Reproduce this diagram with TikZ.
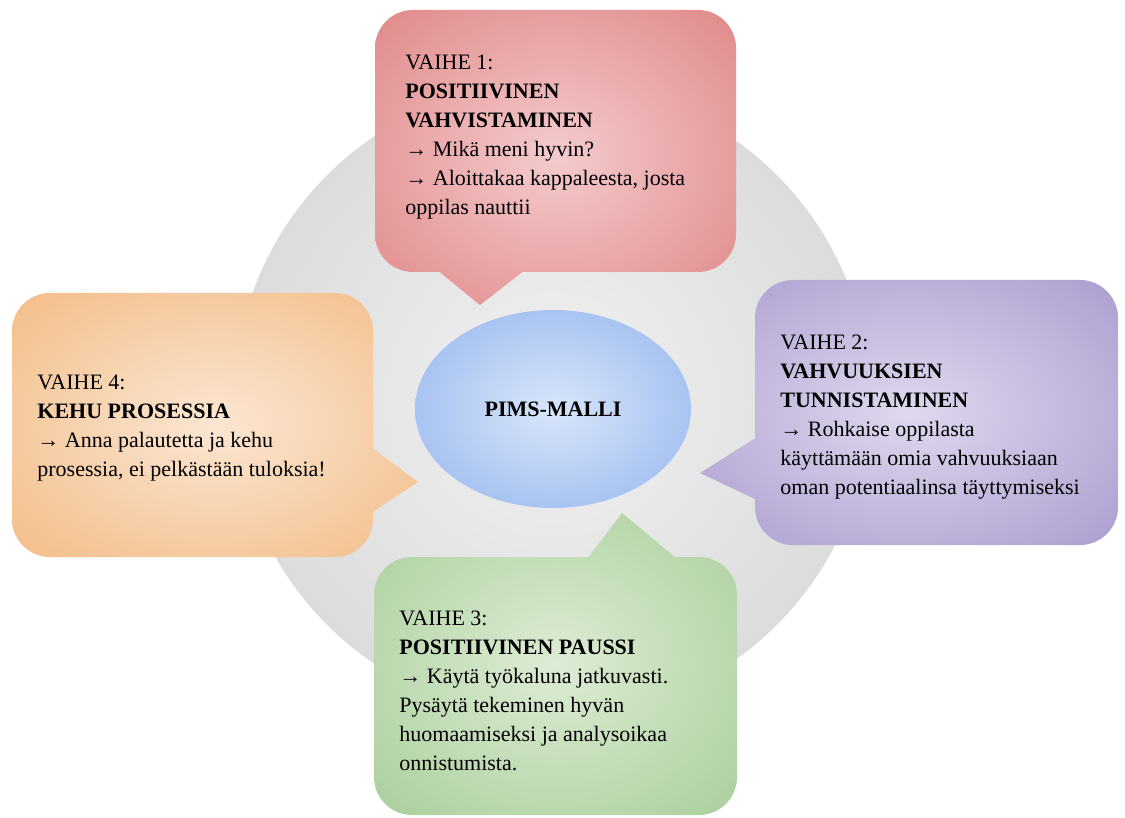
\documentclass[tikz,border=0pt]{standalone}
\usepackage{fontspec}
\setmainfont{Liberation Serif}
\definecolor{grayin}{HTML}{F2F2F2}
\definecolor{grayout}{HTML}{C6C6C6}
\definecolor{bluein}{HTML}{D8E5FA}
\definecolor{blueout}{HTML}{7FA7EA}
\definecolor{redin}{HTML}{F4CBCD}
\definecolor{redout}{HTML}{D76A6A}
\definecolor{orangein}{HTML}{FBE6D2}
\definecolor{orangeout}{HTML}{EFAA66}
\definecolor{purplein}{HTML}{DFD8EE}
\definecolor{purpleout}{HTML}{9383C1}
\definecolor{greenin}{HTML}{DDECD5}
\definecolor{greenout}{HTML}{93C182}
\pgfdeclareradialshading{grayglow}{\pgfpoint{0bp}{0bp}}{color(0bp)=(grayin); color(50bp)=(grayout); color(60bp)=(grayout)}
\pgfdeclareradialshading{blueglow}{\pgfpoint{0bp}{0bp}}{color(0bp)=(bluein); color(47bp)=(blueout); color(60bp)=(blueout)}
\pgfdeclareradialshading{redglow}{\pgfpoint{0bp}{0bp}}{color(0bp)=(redin); color(52bp)=(redout); color(72bp)=(redout)}
\pgfdeclareradialshading{orangeglow}{\pgfpoint{0bp}{0bp}}{color(0bp)=(orangein); color(52bp)=(orangeout); color(72bp)=(orangeout)}
\pgfdeclareradialshading{purpleglow}{\pgfpoint{0bp}{0bp}}{color(0bp)=(purplein); color(52bp)=(purpleout); color(72bp)=(purpleout)}
\pgfdeclareradialshading{greenglow}{\pgfpoint{0bp}{0bp}}{color(0bp)=(greenin); color(52bp)=(greenout); color(72bp)=(greenout)}
\begin{document}
\begin{tikzpicture}[x=0.5pt, y=-0.5pt,
	txt/.style={anchor=north west, align=left, inner sep=0pt, font=\fontsize{11}{14.5}\selectfont},
	box/.style={rounded corners=19pt}]
	\useasboundingbox (0,0) rectangle (1125,818);
	% background disc and centre
	\shade[shading=grayglow] (552,400) circle[radius=318];
	\shade[shading=blueglow] (553,409) ellipse[x radius=138, y radius=99];
	\node[font=\fontsize{11}{14.5}\selectfont\bfseries, inner sep=0pt] (malli) at (553,409) {PIMS-MALLI};
	% callouts
	\shade[shading=redglow, box] (375,10) rectangle (736,272) [sharp corners] (437,270) -- (480,305) -- (525,270) -- cycle;
	\shade[shading=purpleglow, box] (755,280) rectangle (1118,545) [sharp corners] (757,437) -- (700,473) -- (757,500) -- cycle;
	\shade[shading=greenglow, box] (374,557) rectangle (737,815) [sharp corners] (677,559) -- (622,513) -- (587,559) -- cycle;
	\shade[shading=orangeglow, box] (12,293) rectangle (373,557) [sharp corners] (371,513) -- (418,482) -- (371,447) -- cycle;
	% texts
	\node[txt] (vaihe1) at (405,55) {VAIHE 1:\\\textbf{POSITIIVINEN}\\\textbf{VAHVISTAMINEN}\\→ Mikä meni hyvin?\\→ Aloittakaa kappaleesta, josta\\oppilas nauttii};
	\node[txt] (vaihe2) at (780,335) {VAIHE 2:\\\textbf{VAHVUUKSIEN}\\\textbf{TUNNISTAMINEN}\\→ Rohkaise oppilasta\\käyttämään omia vahvuuksiaan\\oman potentiaalinsa täyttymiseksi};
	\node[txt] (vaihe3) at (399,611) {VAIHE 3:\\\textbf{POSITIIVINEN PAUSSI}\\→ Käytä työkaluna jatkuvasti.\\Pysäytä tekeminen hyvän\\huomaamiseksi ja analysoikaa\\onnistumista.};
	\node[txt] (vaihe4) at (37,375) {VAIHE 4:\\\textbf{KEHU PROSESSIA}\\→ Anna palautetta ja kehu\\prosessia, ei pelkästään tuloksia!};
\end{tikzpicture}
\end{document}
